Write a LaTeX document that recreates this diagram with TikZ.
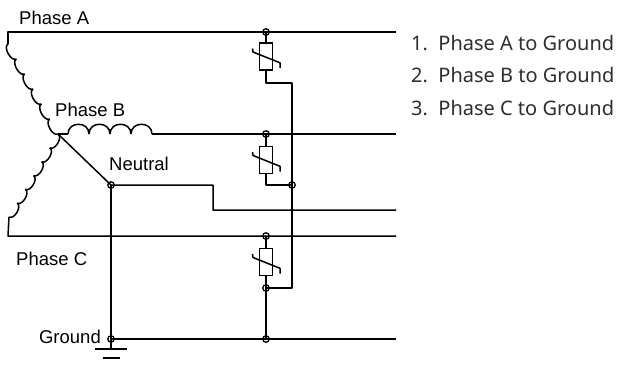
\documentclass[tikz,border=0pt]{standalone}
\usepackage{fontspec}
\setmainfont{Liberation Sans}
\newfontfamily\listfont{Noto Sans}
\usetikzlibrary{calc}
\definecolor{listgray}{HTML}{2E2E2E}
\tikzstyle{wire} = [draw, line width=1.5bp, color=black, line join=round]
\tikzstyle{dot} = [circle, draw, line width=1.3bp, inner sep=0pt, minimum size=6.5bp]
\tikzstyle{varistor} = [rectangle, draw, line width=1.5bp, inner sep=0pt, minimum width=13bp, minimum height=27bp]
\tikzstyle{phasetext} = [font=\fontsize{18.5bp}{20bp}\selectfont, inner sep=0pt]
\tikzstyle{listtext} = [font=\listfont\fontsize{20bp}{22bp}\selectfont, text=listgray, inner sep=0pt, anchor=base west]
% winding: from, to, turns, bulge
\newcommand{\windings}[4]{%
  \foreach \k in {1,...,#3}{
    \path ($(#1)!{(\k-1)/#3}!(#2)$) coordinate (w1) ($(#1)!{\k/#3}!(#2)$) coordinate (w2);
    \draw[wire] (w1) .. controls ($(w1)!#4!90:(w2)$) and ($(w2)!#4!-90:(w1)$) .. (w2);
  }}
% slanted stroke over a varistor box
\newcommand{\varslash}[1]{%
  \draw[wire] ($(#1)+(-13.5,-8)$) -- ++(0.5,3.5) -- ($(#1)+(14,6.3)$) -- ++(0,5.2);}

\begin{document}
\begin{tikzpicture}[x=1bp, y=-1bp]
		\fill[white] (0,0) rectangle (618,366);
		\useasboundingbox (0,0) rectangle (618,366);
		% Place nodes
		\coordinate (star) at (58,134);
		\coordinate (aL) at (8,32);
		\coordinate (aR) at (396,32);
		\coordinate (aEnd) at (8,44);
		\coordinate (b1) at (68,134);
		\coordinate (b2) at (152,134);
		\coordinate (bR) at (396,134);
		\coordinate (cEnd) at (9,217);
		\coordinate (cL) at (8,236);
		\coordinate (cR) at (396,236);
		\node [dot] (dN) at (111,185) {};
		\coordinate (nStep) at (213,210);
		\coordinate (nR) at (396,210);
		\node [dot] (dG) at (111,339) {};
		\coordinate (gR) at (396,339);
		\coordinate (gs1) at (111,349);
		\coordinate (gs2) at (111,358);
		\node [dot] (dA) at (266,32) {};
		\node [varistor] (vA) at (266,56.5) {};
		\node [dot] (dB) at (266,134) {};
		\node [varistor] (vB) at (266,160) {};
		\node [dot] (dJ) at (292,185) {};
		\node [dot] (dC) at (266,236) {};
		\node [varistor] (vC) at (266,262) {};
		\node [dot] (dCb) at (266,288) {};
		\node [dot] (dGr) at (266,339) {};
		\coordinate (tA) at (292,83);
		\coordinate (tC) at (292,288);
		% Labels
		\node [phasetext, anchor=base west] (lA) at (19,24) {Phase A};
		\node [phasetext, anchor=base west] (lB) at (55,116) {Phase B};
		\node [phasetext, anchor=base west] (lN) at (109,170) {Neutral};
		\node [phasetext, anchor=base west] (lC) at (16,265) {Phase C};
		\node [phasetext, anchor=base east] (lG) at (101,343) {Ground};
		\node [listtext] (i1) at (411,50) {1.\ \ Phase A to Ground};
		\node [listtext] (i2) at (411,82.5) {2.\ \ Phase B to Ground};
		\node [listtext] (i3) at (411,115) {3.\ \ Phase C to Ground};
		% Generator windings
		\windings{star}{aEnd}{6}{6bp}
		\windings{b1}{b2}{4}{13bp}
		\windings{star}{cEnd}{6}{6bp}
		% Draw edges
		\path [wire] (aEnd) -- (aL) -- (aR);
		\path [wire] (star) -- (b1);
		\path [wire] (b2) -- (bR);
		\path [wire] (cEnd) -- (cL) -- (cR);
		\path [wire] (star) -- (dN.center) -| (nStep) -- (nR);
		\path [wire] (dN.center) -- (dG.center) -- (gR);
		\path [wire] (dG.center) -- (gs1);
		\path [wire] ($(gs1)+(-16,0)$) -- ($(gs1)+(16,0)$);
		\path [wire] ($(gs2)+(-8.5,0)$) -- ($(gs2)+(8.5,0)$);
		% Varistors
		\path [wire] (dA.center) -- (vA);
		\path [wire] (vA) |- (tA) -- (tC) -- (dCb.center);
		\path [wire] (dB.center) -- (vB);
		\path [wire] (vB) |- (dJ.center);
		\path [wire] (dC.center) -- (vC) -- (dCb.center) -- (dGr.center);
		\varslash{vA}
		\varslash{vB}
		\varslash{vC}
	\end{tikzpicture}
\end{document}
